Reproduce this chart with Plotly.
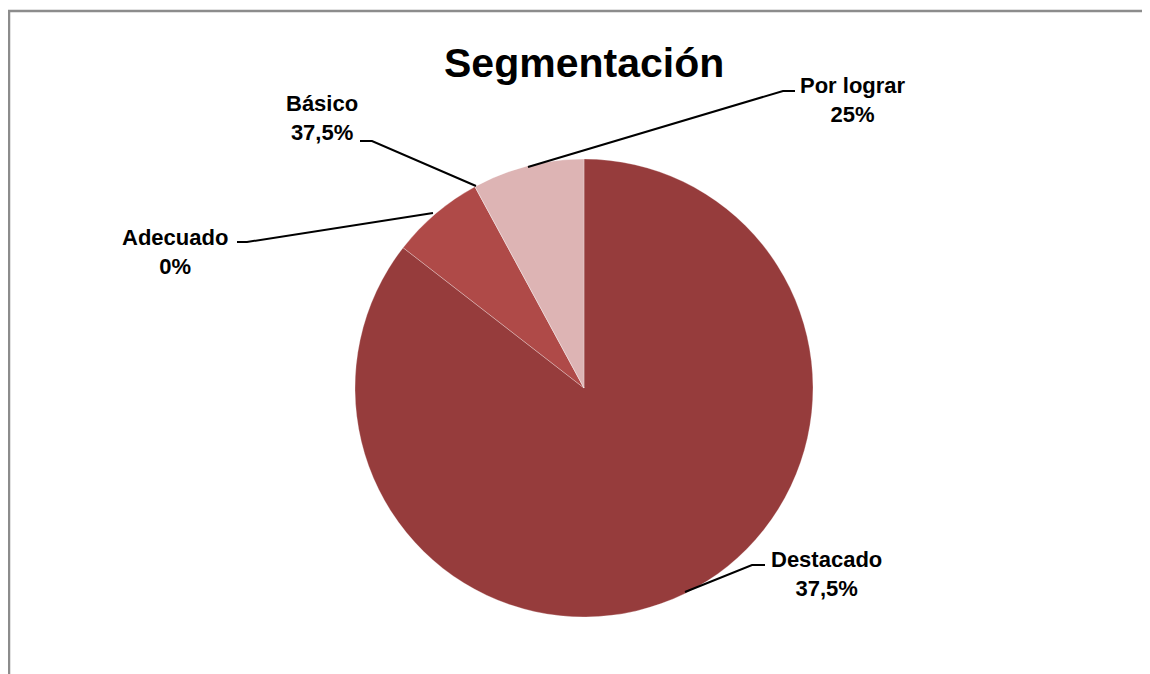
import plotly.graph_objects as go

# Data (slice sizes; label texts as printed on the chart)
categories = ["Destacado", "Adecuado", "Básico", "Por lograr"]
slice_values = [85.5, 6.6, 0.0, 7.9]
label_texts = ["37,5%", "0%", "37,5%", "25%"]
colors = ["#963C3C", "#AF4A48", "#C0504D", "#DDB4B4"]

# the page body has an 8px margin; work in page pixels and convert
OFF = 8
W, H = 1150 - OFF, 674 - OFF

def px(x):
    return (x - OFF) / W

def py(y):
    return 1 - (y - OFF) / H

cx, cy, r = 584, 388, 229

fig = go.Figure()
fig.add_trace(go.Pie(
    labels=categories,
    values=slice_values,
    sort=False,
    direction="clockwise",
    rotation=0,
    marker=dict(colors=colors, line=dict(color="rgba(255,255,255,0.35)", width=0.8)),
    textinfo="none",
    hoverinfo="label+value",
    showlegend=False,
    domain=dict(x=[px(cx - r), px(cx + r)], y=[py(cy + r), py(cy - r)]),
))

# label positions (page pixels) and leader line paths (page pixels)
label_pos = {
    "Destacado": (826, 574),
    "Adecuado": (175, 252),
    "Básico": (322, 118),
    "Por lograr": (853, 100),
}
leaders = {
    "Destacado": [(685, 592), (752, 565), (765, 565)],
    "Adecuado": [(433, 213), (247, 242), (237, 242)],
    "Básico": [(476, 186), (372, 141), (360, 141)],
    "Por lograr": [(528, 167), (783, 91), (795, 91)],
}

shapes = []
annotations = []
for cat, txt in zip(categories, label_texts):
    pts = leaders[cat]
    path = "M " + " L ".join(f"{px(x)},{py(y)}" for x, y in pts)
    shapes.append(dict(type="path", xref="paper", yref="paper", path=path,
                       line=dict(color="black", width=2)))
    lx, ly = label_pos[cat]
    annotations.append(dict(
        x=px(lx), y=py(ly), xref="paper", yref="paper",
        text=f"<b>{cat}</b><br><b>{txt}</b>", showarrow=False,
        font=dict(family="Liberation Sans, Arial, sans-serif", size=22, color="black"),
        xanchor="center", yanchor="middle", align="center",
    ))

# chart area border (cropped at right/bottom)
shapes.append(dict(type="rect", xref="paper", yref="paper",
                   x0=px(9), x1=1.05, y0=-0.05, y1=py(11),
                   line=dict(color="#8C8C8C", width=2.5)))

annotations.append(dict(
    x=px(584), y=py(63), xref="paper", yref="paper",
    text="<b>Segmentación</b>", showarrow=False,
    font=dict(family="Liberation Sans, Arial, sans-serif", size=41, color="black"),
    xanchor="center", yanchor="middle",
))

fig.update_layout(
    width=W, height=H,
    margin=dict(l=0, r=0, t=0, b=0),
    paper_bgcolor="white",
    plot_bgcolor="white",
    shapes=shapes,
    annotations=annotations,
)

fig.write_html("out.html")
